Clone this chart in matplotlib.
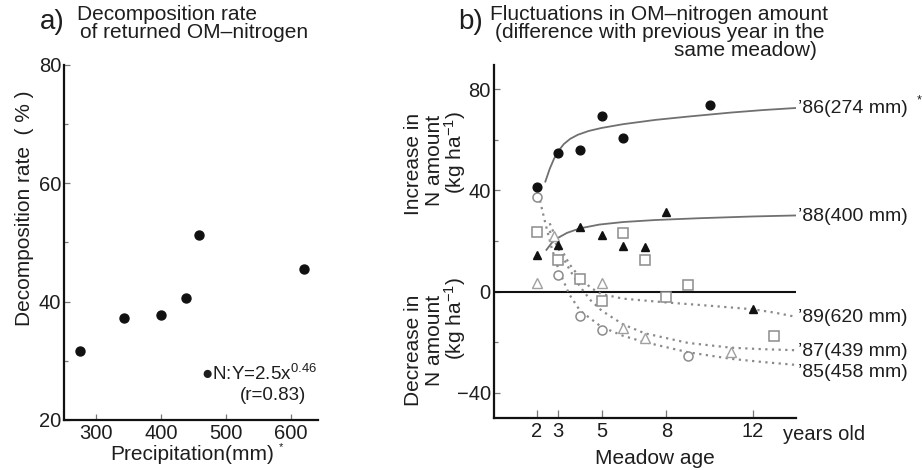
import matplotlib
matplotlib.use('Agg')
import matplotlib.pyplot as plt
from matplotlib.ticker import FixedLocator

plt.rcParams['font.family'] = ['Liberation Sans', 'DejaVu Sans']
plt.rcParams['mathtext.fontset'] = 'custom'
plt.rcParams['mathtext.rm'] = 'Liberation Sans'
plt.rcParams['mathtext.it'] = 'Liberation Sans'
plt.rcParams['axes.unicode_minus'] = True

# --- panel a: decomposition rate vs precipitation ---
precip = [274, 343, 400, 439, 458, 620]
decomp = [31.7, 37.3, 37.8, 40.7, 51.3, 45.6]

# --- panel b: yearly change of OM-nitrogen by meadow age ---
age86 = [2, 3, 4, 5, 6, 10]
n86 = [41.4, 54.8, 55.9, 69.6, 60.7, 73.8]
age88 = [2, 3, 4, 5, 6, 7, 8, 12]
n88 = [14.4, 18.6, 25.7, 22.4, 18.2, 17.5, 31.4, -6.8]
age89 = [2, 3, 4, 5, 6, 7, 8, 9, 13]
n89 = [23.4, 12.5, 5.0, -3.9, 23.0, 12.6, -2.0, 2.4, -17.4]
age87 = [2, 2.8, 5, 6, 7, 11]
n87 = [3.3, 22.0, 3.3, -14.4, -18.4, -24.0]
age85 = [2, 3, 4, 5, 9]
n85 = [37.5, 6.6, -9.6, -15.3, -25.3]

# fitted curves
fit86_x = [2.4, 2.6, 2.8, 3.0, 3.25, 3.55, 3.9, 4.4, 5.0, 6.0, 7.5, 9.0, 11.0, 12.5, 14.0]
fit86_y = [43.5, 48.5, 52.5, 55.5, 58.3, 60.4, 62.0, 63.5, 64.7, 66.2, 67.9, 69.2, 70.8, 71.8, 72.6]
fit88_x = [2.45, 2.7, 3.0, 3.4, 4.0, 4.9, 6.0, 7.5, 9.5, 12.0, 14.0]
fit88_y = [16.5, 19.3, 21.3, 23.2, 25.0, 26.5, 27.5, 28.3, 29.0, 29.7, 30.1]
fit89_x = [2.6, 3.0, 3.5, 4.0, 4.5, 5.0, 6.0, 8.0, 10.0, 12.0, 13.0, 14.0]
fit89_y = [27.0, 19.0, 11.0, 5.5, 1.5, -1.0, -2.8, -4.3, -5.6, -7.0, -8.3, -10.0]
fit87_x = [2.6, 3.0, 3.5, 4.0, 4.5, 5.0, 6.0, 7.0, 9.0, 11.0, 12.5, 14.0]
fit87_y = [24.0, 17.0, 9.0, 2.0, -3.5, -7.5, -13.0, -16.5, -20.3, -22.2, -22.8, -23.2]
fit85_x = [2.15, 2.4, 2.7, 3.0, 3.5, 4.0, 5.0, 6.0, 7.0, 9.0, 11.0, 12.5, 14.0]
fit85_y = [36.0, 27.0, 17.0, 9.0, -1.0, -7.5, -14.0, -17.5, -20.0, -24.0, -26.6, -27.9, -29.0]

curve_labels = ['\u201986(274 mm)', '\u201988(400 mm)', '\u201989(620 mm)',
                '\u201987(439 mm)', '\u201985(458 mm)']
label_y = [72.5, 29.8, -10.3, -23.6, -31.9]

TXT = '#1e1e1e'
FS = 14.5

fig = plt.figure(figsize=(9.22, 4.70), dpi=100)


def fx(px):
    return px / 922.0


def fy(py):
    return 1 - py / 470.0


def style_axes(ax):
    for s in ['top', 'right']:
        ax.spines[s].set_visible(False)
    for s in ['left', 'bottom']:
        ax.spines[s].set_linewidth(1.6)
        ax.spines[s].set_color('#111111')
    ax.tick_params(which='both', direction='in', colors='#777777',
                   labelcolor=TXT, labelsize=FS, width=0.9)
    ax.tick_params(which='major', length=4)
    ax.tick_params(which='minor', length=3)
    ax.tick_params(axis='y', pad=2)
    ax.tick_params(axis='x', pad=3)


# ---------- a) ----------
axA = fig.add_axes([fx(64), fy(420), fx(254), 355 / 470.0])
style_axes(axA)
axA.scatter(precip, decomp, s=42, color='#111111', zorder=3)
axA.set_xlim(250, 642)
axA.set_ylim(20, 80)
axA.set_xticks([300, 400, 500, 600])
axA.set_yticks([20, 40, 60, 80])
axA.yaxis.set_minor_locator(FixedLocator([30, 50, 70]))

axA.text(461, 27.7, '\u25cfN:Y=2.5x$^{0.46}$', fontsize=13.5, color=TXT,
         ha='left', va='center')
axA.text(572, 24.2, '(r=0.83)', fontsize=13.5, color=TXT, ha='center', va='center')

fig.text(fx(40), fy(22), 'a)', fontsize=20, color=TXT, ha='left', va='center')
fig.text(fx(77), fy(14), 'Decomposition rate', fontsize=15, color=TXT,
         ha='left', va='center')
fig.text(fx(80), fy(33), 'of returned OM\u2013nitrogen', fontsize=15, color=TXT,
         ha='left', va='center')
fig.text(fx(24), fy(208), 'Decomposition rate  ( % )', fontsize=15, color=TXT,
         rotation=90, ha='center', va='center')
fig.text(fx(192), fy(455), 'Precipitation(mm)', fontsize=15, color=TXT,
         ha='center', va='center')
fig.text(fx(281), fy(447), '*', fontsize=8, color=TXT, ha='center', va='center')

# ---------- b) ----------
axB = fig.add_axes([fx(493.5), fy(418), fx(302.5), 353 / 470.0])
style_axes(axB)
axB.set_xlim(0, 14)
axB.set_ylim(-50, 89.6)
axB.set_xticks([2, 3, 5, 8, 12])
axB.set_yticks([-40, 0, 40, 80])
axB.yaxis.set_minor_locator(FixedLocator([-20, 20, 60]))
axB.tick_params(axis='x', length=6)

axB.plot([0, 14], [0, 0], color='#111111', lw=1.5, zorder=2)

solid = dict(color='#707070', lw=1.3, zorder=2)
dotted = dict(color='#8a8a8a', lw=1.6, ls=(0, (1.0, 2.0)), zorder=2)
axB.plot(fit86_x, fit86_y, **solid)
axB.plot(fit88_x, fit88_y, **solid)
axB.plot(fit89_x, fit89_y, **dotted)
axB.plot(fit87_x, fit87_y, **dotted)
axB.plot(fit85_x, fit85_y, **dotted)

axB.plot(age86, n86, 'o', ms=6.3, color='#111111', zorder=4)
axB.plot(age88, n88, '^', ms=6.3, color='#111111', zorder=4)
axB.plot(age89, n89, 's', ms=7.3, mfc='white', mec='#8c8c8c', mew=1.1, zorder=3)
axB.plot(age87, n87, '^', ms=6.5, mfc='white', mec='#a0a0a0', mew=1.0, zorder=3)
axB.plot(age85, n85, 'o', ms=6.5, mfc='white', mec='#8c8c8c', mew=1.1, zorder=3)

for lab, yy in zip(curve_labels, label_y):
    axB.text(14.1, yy, lab, fontsize=14, color=TXT, ha='left', va='center',
             clip_on=False)
fig.text(fx(919), fy(100), '*', fontsize=9, color=TXT, ha='center', va='center')

axB.text(13.4, -56.5, 'years old', fontsize=FS, color=TXT, ha='left',
         va='center', clip_on=False)
fig.text(fx(655), fy(458), 'Meadow age', fontsize=15, color=TXT,
         ha='center', va='center')

# y-axis captions of panel b, one text per line
unit = '(kg ha$^{\\mathrm{-1}}$)'
cap_up = [('Increase in', 413, 164), ('N amount', 434, 160), (unit, 455, 152)]
cap_dn = [('Decrease in', 413, 350), ('N amount', 434, 340), (unit, 455, 318)]
for txt, px, py in cap_up + cap_dn:
    fig.text(fx(px), fy(py), txt, fontsize=15, color=TXT, rotation=90,
             ha='center', va='center')

fig.text(fx(458), fy(22), 'b)', fontsize=20, color=TXT, ha='left', va='center')
fig.text(fx(490), fy(14), 'Fluctuations in OM\u2013nitrogen amount', fontsize=15,
         color=TXT, ha='left', va='center')
fig.text(fx(495), fy(32), '(difference with previous year in the', fontsize=15,
         color=TXT, ha='left', va='center')
fig.text(fx(817), fy(50), 'same meadow)', fontsize=15, color=TXT,
         ha='right', va='center')

fig.savefig('out.png', dpi=100)
